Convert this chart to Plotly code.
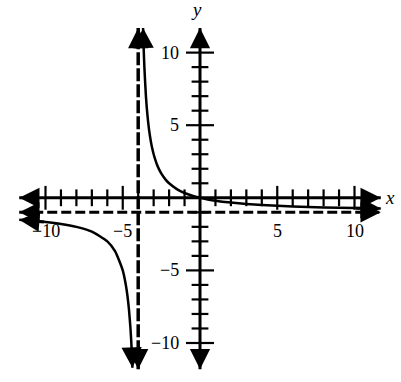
import plotly.graph_objects as go

# ---- data ----
axis_extent_x = 11.7
axis_extent_y_top = 11.7
axis_extent_y_bottom = -11.8
asymptote_x = -4
asymptote_y = -1

x_ticks = list(range(-10, 11))
y_ticks = list(range(-10, 11))
major_ticks = [-10, -5, 5, 10]
x_tick_labels = ["\u221210", "\u22125", "5", "10"]
y_tick_labels = ["\u221210", "\u22125", "5", "10"]

# right branch of the curve (x > -4)
right_x = [-3.685, -3.65, -3.6, -3.5, -3.4, -3.3, -3.2, -3.1, -3.0, -2.9, -2.8, -2.65, -2.5,
           -2.2, -2.0, -1.5, -1.0, -0.5, 0, 0.5, 1, 2, 3, 4, 6, 8, 10, 11.7]
right_y = [11.7, 10.43, 9.0, 7.0, 5.67, 4.71, 4.0, 3.44, 3.0, 2.64, 2.33, 1.96, 1.67,
           1.22, 1.0, 0.6, 0.33, 0.14, 0.0, -0.11, -0.2, -0.33, -0.43, -0.5, -0.6, -0.67, -0.71, -0.745]
# left branch of the curve (x < -4)
left_x = [-11.7, -10, -9, -8, -7, -6, -5.5, -5, -4.8, -4.7, -4.6, -4.5, -4.45, -4.4, -4.374]
left_y = [-1.52, -1.67, -1.8, -2.0, -2.33, -3.0, -3.67, -5.0, -6.0, -6.71, -7.67, -9.0, -9.89, -11.0, -11.7]

FONT = "Liberation Serif"

fig = go.Figure()

# dashed asymptotes
fig.add_trace(go.Scatter(x=[-axis_extent_x, axis_extent_x], y=[asymptote_y, asymptote_y],
                         mode="lines", line=dict(color="black", width=3, dash="10px,4px"),
                         hoverinfo="skip"))
fig.add_trace(go.Scatter(x=[asymptote_x, asymptote_x], y=[axis_extent_y_bottom, axis_extent_y_top],
                         mode="lines", line=dict(color="black", width=3.5, dash="13px,3px"),
                         hoverinfo="skip"))

# axes
fig.add_trace(go.Scatter(x=[-axis_extent_x, axis_extent_x], y=[0, 0], mode="lines",
                         line=dict(color="black", width=3), hoverinfo="skip"))
fig.add_trace(go.Scatter(x=[0, 0], y=[axis_extent_y_bottom, axis_extent_y_top], mode="lines",
                         line=dict(color="black", width=3), hoverinfo="skip"))

# ticks
minor_x = [t for t in x_ticks if t not in major_ticks and t != 0]
minor_y = [t for t in y_ticks if t not in major_ticks and t != 0]
fig.add_trace(go.Scatter(x=minor_x, y=[0] * len(minor_x), mode="markers",
                         marker=dict(symbol="line-ns", size=12, line=dict(color="black", width=2.2)),
                         hoverinfo="skip"))
fig.add_trace(go.Scatter(x=major_ticks, y=[0] * len(major_ticks), mode="markers",
                         marker=dict(symbol="line-ns", size=17, line=dict(color="black", width=2.2)),
                         hoverinfo="skip"))
fig.add_trace(go.Scatter(x=[0] * len(minor_y), y=minor_y, mode="markers",
                         marker=dict(symbol="line-ew", size=12, line=dict(color="black", width=2.2)),
                         hoverinfo="skip"))
fig.add_trace(go.Scatter(x=[0] * len(major_ticks), y=major_ticks, mode="markers",
                         marker=dict(symbol="line-ew", size=20, line=dict(color="black", width=2.2)),
                         hoverinfo="skip"))

# curve
for xs, ys in [(right_x, right_y), (left_x, left_y)]:
    fig.add_trace(go.Scatter(x=xs, y=ys, mode="lines",
                             line=dict(color="black", width=2.5, shape="spline", smoothing=0.6),
                             hoverinfo="skip"))

annotations = []


def arrow(tip_x, tip_y, back_x, back_y):
    annotations.append(dict(x=tip_x, y=tip_y, ax=back_x, ay=back_y, xref="x", yref="y",
                            axref="x", ayref="y", text="", showarrow=True, arrowhead=2,
                            arrowsize=1.35, arrowwidth=3, arrowcolor="black"))


# axis arrows
arrow(axis_extent_x, 0, axis_extent_x - 0.6, 0)
arrow(-axis_extent_x, 0, -axis_extent_x + 0.6, 0)
arrow(0, axis_extent_y_top, 0, axis_extent_y_top - 0.6)
arrow(0, axis_extent_y_bottom, 0, axis_extent_y_bottom + 0.6)
# asymptote arrows
arrow(axis_extent_x, asymptote_y, axis_extent_x - 0.6, asymptote_y)
arrow(-axis_extent_x, asymptote_y, -axis_extent_x + 0.6, asymptote_y)
arrow(asymptote_x, axis_extent_y_top, asymptote_x, axis_extent_y_top - 0.6)
arrow(asymptote_x, axis_extent_y_bottom, asymptote_x, axis_extent_y_bottom + 0.6)
# curve end arrows
arrow(right_x[0], right_y[0], right_x[1], right_y[1])
arrow(right_x[-1], right_y[-1], right_x[-2], right_y[-2])
arrow(left_x[0], left_y[0], left_x[1], left_y[1])
arrow(left_x[-1], left_y[-1], left_x[-2], left_y[-2])

# tick labels
for v, t in zip(major_ticks, x_tick_labels):
    annotations.append(dict(x=v, y=-2.3, xref="x", yref="y", text=t, showarrow=False,
                            xanchor="center", yanchor="middle",
                            font=dict(family=FONT, size=18, color="black")))
for v, t in zip(major_ticks, y_tick_labels):
    annotations.append(dict(x=-1.2, y=v, xref="x", yref="y", text=t, showarrow=False,
                            xanchor="right", yanchor="middle",
                            font=dict(family=FONT, size=18, color="black")))

# axis titles
annotations.append(dict(x=12.3, y=0.05, xref="x", yref="y", text="<i>x</i>", showarrow=False,
                        xanchor="center", yanchor="middle",
                        font=dict(family=FONT, size=19, color="black")))
annotations.append(dict(x=-0.25, y=13.62, xref="x", yref="y", text="<i>y</i>", showarrow=False,
                        xanchor="center", yanchor="top", yshift=3,
                        font=dict(family=FONT, size=19, color="black")))

fig.update_layout(
    width=401, height=382,
    margin=dict(l=0, r=0, t=0, b=0),
    paper_bgcolor="white", plot_bgcolor="white",
    showlegend=False,
    xaxis=dict(range=[-12.945, 13.01], visible=False, showgrid=False, zeroline=False, fixedrange=True),
    yaxis=dict(range=[-12.686, 13.623], visible=False, showgrid=False, zeroline=False, fixedrange=True),
    annotations=annotations,
)

# remove the default page margin so the figure fills the window exactly
fig.write_html("out.html",
               config={"displayModeBar": False, "staticPlot": True},
               post_script="document.body.style.margin='0';document.body.style.overflow='hidden';")
